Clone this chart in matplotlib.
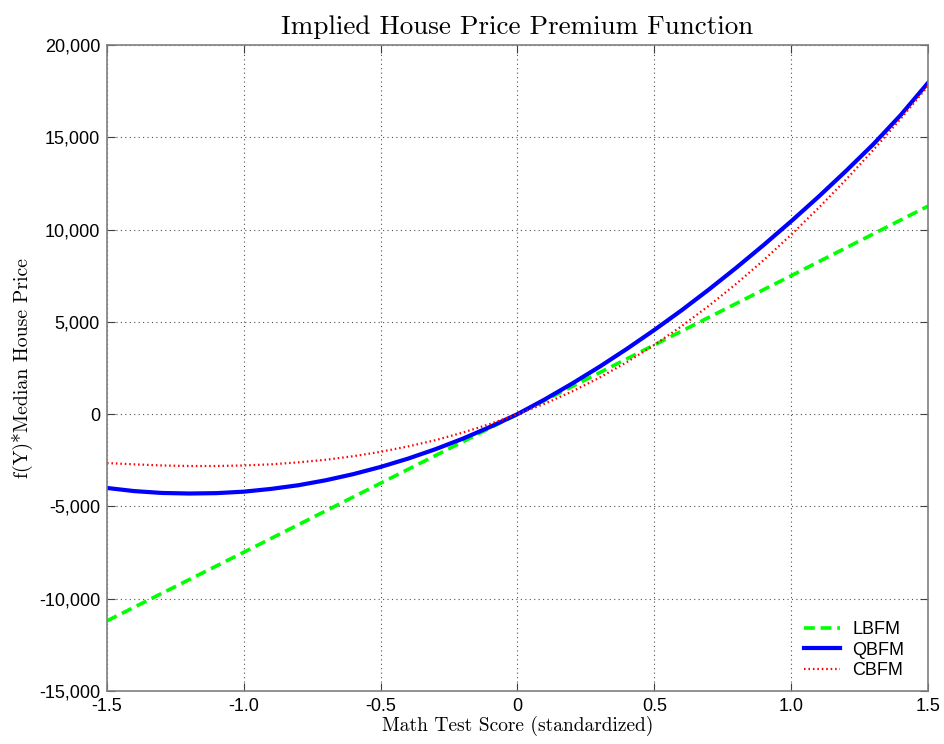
import numpy as np
import matplotlib
matplotlib.use("Agg")
import matplotlib.pyplot as plt
from matplotlib.ticker import FuncFormatter

# Valeurs (score standardisé -> prime de prix)
x = [-1.5, -1.4, -1.3, -1.2, -1.1, -1.0, -0.9, -0.8, -0.7, -0.6, -0.5,
     -0.4, -0.3, -0.2, -0.1, 0.0, 0.1, 0.2, 0.3, 0.4, 0.5,
     0.6, 0.7, 0.8, 0.9, 1.0, 1.1, 1.2, 1.3, 1.4, 1.5]

x_lin = [-1.5, -1.0, -0.5, 0.0, 0.5, 1.0, 1.5]
lbfm = [-11200, -7480, -3740, 0, 3750, 7500, 11270]

qbfm = [-4000, -4170, -4270, -4300, -4280, -4200, -4050, -3850, -3580, -3250, -2860,
        -2410, -1900, -1330, -690, 0, 800, 1660, 2570, 3540, 4560,
        5630, 6760, 7940, 9170, 10450, 11780, 13170, 14620, 16200, 17950]

cbfm = [-2650, -2720, -2780, -2810, -2810, -2780, -2720, -2610, -2470, -2280, -2040,
        -1750, -1410, -1000, -530, 0, 570, 1230, 1980, 2820, 3750,
        4770, 5880, 7070, 8350, 9720, 11170, 12700, 14310, 16000, 17780]

labels = ['LBFM', 'QBFM', 'CBFM']

fig = plt.figure(figsize=(9.45, 7.44), dpi=100)
ax = fig.add_axes([107/945, 1 - 691/744, (928 - 107)/945, (691 - 45)/744])

ax.plot(x_lin, lbfm, color='#00ff00', linestyle=(0, (3, 1.6)), linewidth=2.6, label=labels[0])
ax.plot(x, qbfm, color='#0000ff', linestyle='-', linewidth=3.0, label=labels[1])
ax.plot(x, cbfm, color='#ff0000', linestyle=(0, (0.7, 1.3)), linewidth=1.6, label=labels[2])

ax.set_xlim(-1.5, 1.5)
ax.set_ylim(-15000, 20000)
ax.set_xticks([-1.5, -1.0, -0.5, 0, 0.5, 1.0, 1.5])
ax.set_xticklabels(['-1.5', '-1.0', '-0.5', '0', '0.5', '1.0', '1.5'])
ax.set_yticks(np.arange(-15000, 20001, 5000))
ax.yaxis.set_major_formatter(FuncFormatter(lambda v, p: f"{int(v):,}".replace('\u2212', '-')))

ax.grid(True, linestyle=(0, (1, 3)), color='#505050', linewidth=0.8)
ax.tick_params(direction='in', length=6, top=True, right=True, color='#404040',
               labelsize=13, pad=5)
for lab in ax.get_xticklabels() + ax.get_yticklabels():
    lab.set_fontfamily('Liberation Sans')
for s in ax.spines.values():
    s.set_color('#7f7f7f')
    s.set_linewidth(1.2)

ax.set_title('Implied House Price Premium Function', fontfamily='cmr10', fontsize=19.5, pad=8)
ax.set_xlabel('Math Test Score (standardized)', fontfamily='cmr10', fontsize=14, labelpad=1)
ax.set_ylabel('f(Y)*Median House Price', fontfamily='cmr10', fontsize=14.3, labelpad=4)

leg = ax.legend(loc='lower right', bbox_to_anchor=(0.9798, 0.0071), frameon=False,
                handlelength=2.0, handletextpad=0.65,
                prop={'family': 'Liberation Sans', 'size': 13}, labelspacing=0.19,
                borderaxespad=0)

fig.savefig('out.png', dpi=100)
